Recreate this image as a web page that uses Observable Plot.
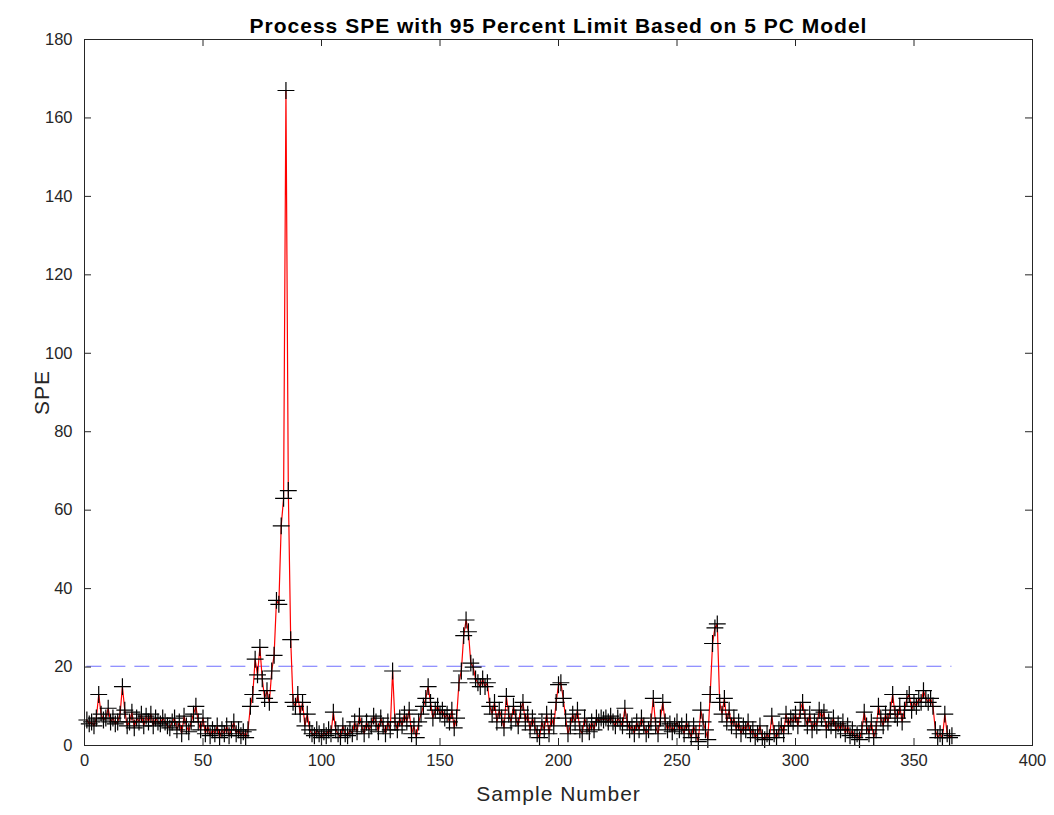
<!DOCTYPE html>
<html>
<head>
<meta charset="utf-8">
<script src="https://cdn.jsdelivr.net/npm/d3@7"></script>
<script src="https://cdn.jsdelivr.net/npm/@observablehq/plot@0.6"></script>
<style>
  html, body { margin: 0; padding: 0; background: #fff; }
  #chart svg { display: block; }
  #chart svg g[aria-label="text"] text { letter-spacing: 1px; }
</style>
</head>
<body>
<div id="chart"></div>
<script>
// ---- data ----
const spe = [
  6.5, 5.5, 6, 5, 7, 13, 8, 6.5, 7, 9.5,
  6, 7, 5.5, 6, 8, 15, 9, 5, 6, 8.5,
  4.5, 7, 6, 8, 5, 7.5, 6, 8, 5, 7,
  6, 5.5, 7, 6, 5, 4.5, 6, 7, 4, 6,
  3, 7.5, 5, 3.5, 6, 8, 10, 6, 4, 7,
  3, 5, 2.5, 4, 3, 5, 2, 4, 3, 5,
  2.5, 4, 6, 3, 4, 2.5, 3.5, 2, 4, 10,
  13, 22, 18, 25, 17, 12, 14, 11, 19, 23,
  37, 36, 56, 63, 167, 65, 27, 11, 10, 13,
  8, 11, 5, 8, 4, 3, 2.5, 4, 3, 2,
  3.5, 2.5, 4, 3, 8.5, 4, 3, 2, 5, 3,
  2.5, 4, 3, 6, 3.5, 7.5, 5, 3, 6, 4,
  5, 7.5, 6, 3.5, 7, 5, 3, 6, 4, 19,
  6, 4, 7, 5, 8, 6, 9, 3, 5, 2,
  6, 8, 10, 12, 15, 11, 7, 9, 10, 8,
  9, 7, 8, 6, 9, 4.5, 7, 16, 19, 28,
  32, 29, 21, 20, 17, 16, 15, 17, 15, 16,
  10, 8, 11, 6, 9, 7, 4.5, 12.5, 8, 6,
  10, 7, 5, 9, 11, 6, 8, 4, 7, 5,
  3, 2, 6, 4, 8, 3, 7, 5, 11, 15.5,
  16, 12, 7, 3, 5, 8, 6, 9, 4, 3,
  7, 5, 3.5, 6, 4, 7, 6, 7, 6.5, 7,
  6, 7.5, 6, 5, 7, 6, 5, 9.5, 6, 4,
  5, 3, 6, 4, 7, 5, 3, 4, 6, 12,
  5, 3, 7, 11, 6, 4, 5.5, 3.5, 5, 6,
  4, 5, 3, 6, 4, 2, 5, 3, 1, 9,
  6, 4, 1.5, 13, 26, 30, 31, 11, 8, 12,
  6, 9, 5, 7, 4, 6, 3, 5, 4, 6,
  3, 4, 2, 3, 5, 2, 1.5, 3, 2, 7.5,
  3, 2, 4, 5, 3, 8, 5, 7, 6, 8,
  5, 9, 11, 7, 5, 8, 4, 6, 5, 9,
  7, 8.5, 4, 6, 5, 7, 4, 5.5, 4, 6,
  3, 5, 2.5, 4, 2, 3, 1.5, 4, 8.5, 5,
  3, 6, 2, 4, 10, 7, 5, 8, 6, 9,
  13, 8, 7, 10, 6, 9, 12, 13, 9, 11,
  10, 12, 11, 14, 12, 11, 12, 10, 4, 2,
  3, 2, 8, 3, 2, 2.5
];
const limit95 = 20.2;
const xTicks = [0, 50, 100, 150, 200, 250, 300, 350, 400];
const yTicks = [0, 20, 40, 60, 80, 100, 120, 140, 160, 180];
const titleText = "Process SPE with 95 Percent Limit Based on 5 PC Model";
const xLabel = "Sample Number";
const yLabel = "SPE";

const rows = spe.map((v, i) => ({sample: i + 1, spe: v}));
const limitRow = [{x1: rows[0].sample, x2: rows[rows.length - 1].sample, y: limit95}];

// ---- layout ----
const W = 1054, H = 815;
const mL = 84, mR = 22, mT = 39, mB = 70;
const innerW = W - mL - mR, innerH = H - mT - mB;
const tk = 7;
const axisColor = "#262626";

const chart = Plot.plot({
  width: W,
  height: H,
  marginLeft: mL,
  marginRight: mR,
  marginTop: mT,
  marginBottom: mB,
  style: {fontFamily: "'Liberation Sans', Arial, sans-serif", fontSize: "16px", color: axisColor, background: "#fff"},
  x: {domain: [0, 400], ticks: xTicks},
  y: {domain: [0, 180], ticks: yTicks},
  marks: [
    Plot.ruleY(limitRow, {x1: "x1", x2: "x2", y: "y", stroke: "#6f6fff", strokeWidth: 1.2, strokeDasharray: "15,9"}),
    Plot.line(rows, {x: "sample", y: "spe", stroke: "#ff0000", strokeWidth: 1.2}),
    Plot.dot(rows, {x: "sample", y: "spe", symbol: "plus", r: 5.5, stroke: "#000", strokeWidth: 1.2}),
    // inward ticks on all four sides
    Plot.tickY(yTicks, {y: d => d, stroke: axisColor, insetRight: innerW - tk}),
    Plot.tickY(yTicks, {y: d => d, stroke: axisColor, insetLeft: innerW - tk}),
    Plot.tickX(xTicks, {x: d => d, stroke: axisColor, insetTop: innerH - tk}),
    Plot.tickX(xTicks, {x: d => d, stroke: axisColor, insetBottom: innerH - tk}),
    Plot.axisY({ticks: yTicks, tickSize: 0, tickPadding: 12, label: null, fontSize: 16.5, fill: axisColor}),
    Plot.axisX({ticks: xTicks, tickSize: 0, tickPadding: 9, label: null, fontSize: 16.5, fill: axisColor}),
    Plot.frame({stroke: axisColor, strokeWidth: 1}),
    Plot.text([xLabel], {frameAnchor: "bottom", dy: 55, fontSize: 21, fill: axisColor}),
    Plot.text([yLabel], {frameAnchor: "left", textAnchor: "middle", dx: -42, rotate: -90, fontSize: 21, fill: axisColor}),
    Plot.text([titleText], {frameAnchor: "top", textAnchor: "middle", dy: -21, fontSize: 21, fontWeight: "bold", fill: "#000"})
  ]
});
document.getElementById("chart").appendChild(chart);
</script>
</body>
</html>
